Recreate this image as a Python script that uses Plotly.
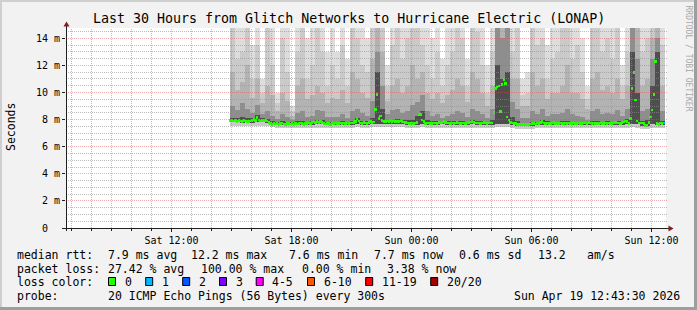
import math
import plotly.graph_objects as go
from datetime import datetime, timedelta

# ------------------------------------------------------------------ data
GRAPH_START = datetime(2026, 4, 18, 6, 43, 30)
GRAPH_END = datetime(2026, 4, 19, 12, 43, 30)
DATA_START = datetime(2026, 4, 18, 14, 55)
STEP_MIN = 5          # median sample step
SMOKE_STEP_MIN = 15   # smoke column step
Y_MAX = 14.76

# median rtt (ms), one value per 5 minutes, rows = hours
median_ms = [
    7.92,
    7.92, 7.90, 7.93, 7.88, 7.92, 7.90, 7.86, 7.92, 7.90, 7.88, 7.85, 7.90,   # Sat 15
    7.96, 8.02, 7.95, 8.17, 7.98, 7.90, 7.94, 7.92, 7.96, 7.90, 7.78, 7.72,   # 16
    7.66, 7.70, 7.68, 7.72, 7.66, 7.70, 7.74, 7.68, 7.66, 7.72, 7.70, 7.68,   # 17
    7.70, 7.66, 7.72, 7.68, 7.70, 7.74, 7.70, 7.66, 7.72, 7.70, 7.74, 7.70,   # 18
    7.78, 7.82, 7.80, 7.84, 7.80, 7.86, 7.78, 7.70, 7.68, 7.72, 7.70, 7.66,   # 19
    7.72, 7.70, 7.74, 7.72, 7.70, 7.76, 7.72, 7.74, 7.70, 7.76, 7.72, 7.74,   # 20
    7.75, 7.80, 7.86, 8.04, 7.90, 7.76, 7.72, 7.78, 7.74, 7.72, 7.80, 7.86,   # 21
    7.80, 7.82, 8.76, 9.87, 8.10, 8.27, 7.92, 7.88, 7.86, 7.90, 7.88, 7.92,   # 22
    7.88, 7.90, 7.84, 7.88, 7.86, 7.90, 7.84, 7.82, 7.80, 7.76, 7.72, 7.70,   # 23
    7.70, 7.72, 7.76, 7.80, 8.34, 8.40, 7.98, 7.84, 7.72, 7.76, 7.74, 7.70,   # Sun 00
    7.72, 7.76, 7.74, 7.72, 7.78, 7.74, 7.80, 7.86, 7.78, 7.74, 7.76, 7.72,   # 01
    7.74, 7.72, 7.76, 7.78, 7.74, 7.72, 7.76, 7.74, 7.72, 7.76, 7.80, 7.82,   # 02
    7.84, 7.78, 7.76, 7.74, 7.76, 7.72, 7.74, 7.78, 7.76, 7.72, 7.74, 7.76,   # 03
    7.76, 8.50, 10.30, 10.40, 10.48, 8.58, 10.60, 10.97, 10.68, 8.20, 7.97, 7.80,  # 04
    7.76, 7.72, 7.70, 7.66, 7.64, 7.62, 7.66, 7.64, 7.62, 7.66, 7.64, 7.68,   # 05
    7.70, 7.72, 7.68, 7.74, 7.72, 7.80, 7.84, 7.76, 7.72, 7.74, 7.70, 7.72,   # 06
    7.74, 7.78, 7.72, 7.70, 7.72, 7.74, 7.72, 7.70, 7.74, 7.72, 7.74, 7.72,   # 07
    7.72, 7.74, 7.72, 7.70, 7.74, 7.72, 7.70, 7.74, 7.76, 7.72, 7.78, 7.74,   # 08
    7.72, 7.74, 7.72, 7.70, 7.72, 7.74, 7.72, 7.70, 7.74, 7.72, 7.76, 7.72,   # 09
    7.72, 7.74, 7.80, 7.76, 7.74, 7.72, 7.78, 7.82, 7.90, 7.88, 7.70, 8.10,   # 10
    10.30, 11.46, 9.45, 7.90, 7.74, 7.76, 7.74, 7.72, 7.55, 7.58, 7.80, 8.20, # 11
    8.70, 9.85, 12.27, 7.72, 7.62, 7.74, 7.72, 7.76,                          # 12
]

# lost pings (of 20) per 5-minute sample
loss_count = [
    0,
    0, 0, 0, 0, 0, 0, 0, 0, 0, 0, 0, 0,
    0, 0, 0, 0, 0, 0, 0, 0, 0, 0, 0, 0,
    0, 0, 0, 0, 0, 0, 0, 0, 0, 0, 0, 0,
    0, 0, 0, 0, 0, 0, 0, 0, 0, 0, 0, 0,
    0, 0, 0, 0, 0, 0, 0, 0, 0, 0, 0, 0,
    0, 0, 0, 0, 0, 0, 0, 0, 0, 0, 0, 0,
    0, 0, 0, 0, 0, 0, 0, 0, 0, 0, 0, 0,
    0, 0, 0, 0, 0, 0, 0, 0, 0, 0, 0, 0,
    0, 0, 0, 0, 0, 0, 0, 0, 0, 0, 0, 0,
    0, 0, 0, 0, 0, 0, 0, 0, 0, 0, 0, 0,
    0, 0, 0, 0, 0, 0, 0, 0, 0, 0, 0, 0,
    0, 0, 0, 0, 0, 0, 0, 0, 0, 0, 0, 0,
    0, 0, 0, 0, 0, 0, 0, 0, 0, 0, 0, 0,
    0, 0, 0, 0, 0, 0, 0, 0, 0, 0, 0, 0,
    0, 0, 0, 0, 0, 0, 0, 0, 0, 0, 0, 0,
    0, 0, 0, 0, 0, 0, 0, 0, 0, 0, 0, 0,
    0, 0, 0, 0, 0, 0, 0, 0, 0, 0, 0, 0,
    0, 0, 0, 0, 0, 0, 0, 0, 0, 0, 0, 0,
    0, 0, 0, 0, 0, 0, 0, 0, 0, 0, 0, 0,
    0, 0, 0, 0, 0, 0, 0, 0, 0, 0, 0, 0,
    0, 0, 0, 0, 0, 0, 0, 0, 0, 0, 0, 0,
    0, 0, 0, 0, 0, 0, 0, 1,
]

# smoke: per 15-minute column, tops of the five grey bands (ms)
smoke_top_1 = [  # lightest (max ping)
    15, 15, 15, 15, 13.5, 15, 11.0, 15, 15, 10.0, 15, 15,
    9.0, 15, 15, 14.0, 15, 15, 15, 13.0, 15, 13.0, 15, 12.5,
    15, 15, 15, 14.0, 15, 15, 15, 12.0, 15, 15, 15, 15,
    15, 15, 15, 15, 14.0, 15, 12.5, 15, 15, 15, 15, 12.5,
    15, 15, 15, 12.0, 15, 15, 15, 15, 15, 15, 11.0, 11.5,
    15, 15, 15, 13.5, 15, 15, 15, 15, 15, 15, 14.0, 10.5,
    15, 15, 15, 15, 15, 15, 12.0, 15, 15, 15, 15, 15,
    15, 15, 15,
]
smoke_top_2 = [
    15, 12.5, 13.0, 15, 11.0, 13.5, 10.0, 15, 12.0, 9.2, 14.0, 11.5,
    8.6, 13.0, 15, 11.0, 12.0, 15, 13.0, 10.5, 12.0, 11.0, 13.5, 10.5,
    15, 14.0, 12.0, 11.5, 15, 15, 15, 10.5, 13.5, 15, 12.5, 14.0,
    15, 15, 13.5, 12.0, 11.0, 13.0, 10.5, 12.0, 13.0, 15, 14.0, 10.5,
    15, 14.5, 12.0, 10.0, 13.0, 15, 15, 15, 13.0, 15, 9.8, 10.0,
    15, 13.5, 14.0, 11.0, 12.5, 13.0, 15, 15, 12.5, 13.5, 11.5, 9.5,
    15, 15, 13.0, 14.0, 12.5, 15, 10.5, 13.0, 15, 15, 13.0, 14.0,
    15, 15, 13.5,
]
smoke_top_3 = [
    11.5, 10.2, 10.8, 12.0, 9.6, 11.0, 9.2, 10.5, 9.8, 8.6, 10.0, 9.4,
    8.3, 10.5, 11.0, 9.5, 9.8, 10.5, 10.0, 9.2, 9.6, 9.5, 10.2, 9.2,
    11.5, 11.0, 10.0, 9.6, 12.5, 15, 13.0, 9.4, 10.5, 11.0, 10.0, 10.5,
    12.0, 11.0, 11.5, 10.0, 9.5, 10.0, 9.2, 9.8, 10.2, 11.0, 10.5, 9.3,
    11.5, 11.0, 10.0, 9.0, 10.5, 15, 15, 15, 11.0, 11.0, 9.0, 9.0,
    11.5, 10.5, 11.0, 9.5, 10.0, 10.0, 10.5, 12.0, 10.0, 10.0, 9.5, 8.8,
    11.0, 11.5, 10.2, 10.5, 10.0, 11.0, 9.5, 10.5, 15, 15, 10.5, 11.0,
    14.0, 15, 10.5,
]
smoke_top_4 = [
    9.0, 8.7, 9.2, 8.8, 8.5, 9.1, 8.4, 8.6, 8.3, 8.05, 8.4, 8.2,
    7.95, 8.5, 8.6, 8.2, 8.3, 8.7, 8.6, 8.2, 8.2, 8.2, 8.4, 8.1,
    8.6, 8.8, 8.5, 8.3, 9.4, 13.0, 10.5, 8.4, 8.7, 8.8, 8.5, 8.6,
    9.1, 9.3, 9.8, 8.6, 8.3, 8.4, 8.1, 8.3, 8.4, 8.6, 8.5, 8.2,
    8.8, 8.6, 8.4, 8.1, 8.8, 15, 14.0, 15, 9.3, 8.8, 8.1, 8.1,
    8.6, 8.4, 8.8, 8.3, 8.4, 8.4, 8.5, 8.8, 8.4, 8.3, 8.2, 8.0,
    8.6, 8.8, 8.4, 8.5, 8.4, 8.7, 8.3, 8.8, 15, 12.5, 8.6, 8.8,
    12.5, 14.0, 8.6,
]
smoke_top_5 = [  # darkest
    8.15, 8.1, 8.2, 8.1, 8.1, 8.35, 8.1, 8.05, 7.9, 7.85, 7.88, 7.85,
    7.82, 7.88, 7.9, 7.85, 7.88, 8.0, 7.98, 7.85, 7.85, 7.85, 7.88, 7.82,
    7.92, 8.1, 7.92, 7.9, 8.1, 11.5, 8.8, 8.0, 8.0, 8.05, 7.98, 7.95,
    7.95, 8.3, 8.6, 7.95, 7.9, 7.88, 7.85, 7.88, 7.88, 7.9, 7.88, 7.85,
    7.98, 7.92, 7.88, 7.85, 8.0, 12.0, 11.0, 11.5, 8.2, 7.9, 7.78, 7.78,
    7.85, 7.85, 8.0, 7.88, 7.85, 7.85, 7.88, 7.9, 7.85, 7.85, 7.82, 7.82,
    7.9, 7.9, 7.85, 7.88, 7.85, 7.92, 7.92, 8.05, 13.0, 10.0, 7.9, 8.0,
    10.5, 13.0, 7.9,
]
smoke_low_light = [  # lowest ping
    7.55, 7.55, 7.50, 7.55, 7.50, 7.55, 7.55, 7.50, 7.45, 7.35, 7.35, 7.38,
    7.35, 7.35, 7.38, 7.35, 7.38, 7.40, 7.40, 7.38, 7.35, 7.38, 7.35, 7.38,
    7.40, 7.42, 7.38, 7.40, 7.42, 7.45, 7.45, 7.42, 7.45, 7.42, 7.45, 7.40,
    7.38, 7.40, 7.42, 7.38, 7.35, 7.38, 7.40, 7.38, 7.35, 7.38, 7.35, 7.38,
    7.40, 7.38, 7.35, 7.38, 7.38, 7.45, 7.45, 7.45, 7.40, 7.30, 7.28, 7.28,
    7.30, 7.35, 7.38, 7.35, 7.38, 7.38, 7.35, 7.38, 7.35, 7.38, 7.35, 7.38,
    7.35, 7.38, 7.35, 7.38, 7.35, 7.38, 7.38, 7.40, 7.42, 7.40, 7.30, 7.28,
    7.40, 7.38, 7.38,
]
smoke_low_dark = [
    7.80, 7.80, 7.78, 7.80, 7.78, 7.82, 7.80, 7.78, 7.66, 7.60, 7.60, 7.60,
    7.60, 7.60, 7.62, 7.60, 7.62, 7.64, 7.64, 7.60, 7.60, 7.62, 7.60, 7.62,
    7.62, 7.64, 7.60, 7.62, 7.64, 7.66, 7.66, 7.64, 7.66, 7.64, 7.66, 7.62,
    7.60, 7.62, 7.64, 7.60, 7.60, 7.62, 7.64, 7.62, 7.60, 7.62, 7.60, 7.62,
    7.64, 7.62, 7.60, 7.62, 7.62, 7.66, 7.66, 7.66, 7.62, 7.55, 7.54, 7.54,
    7.56, 7.60, 7.62, 7.60, 7.62, 7.62, 7.60, 7.62, 7.60, 7.62, 7.60, 7.62,
    7.60, 7.62, 7.60, 7.62, 7.60, 7.62, 7.62, 7.64, 7.66, 7.64, 7.52, 7.50,
    7.64, 7.62, 7.60,
]

x_tick_vals = ["2026-04-18 12:00", "2026-04-18 18:00", "2026-04-19 00:00",
               "2026-04-19 06:00", "2026-04-19 12:00"]
x_tick_text = ["Sat 12:00", "Sat 18:00", "Sun 00:00", "Sun 06:00", "Sun 12:00"]
y_tick_vals = [0, 2, 4, 6, 8, 10, 12, 14]
y_tick_text = ["0\u00a0\u00a0", "2 m", "4 m", "6 m", "8 m", "10 m", "12 m", "14 m"]

loss_labels = ["0", "1", "2", "3", "4-5", "6-10", "11-19", "20/20"]
loss_upper = [0, 1, 2, 3, 5, 10, 19, 20]
loss_colors = ["#26ff00", "#00b8ff", "#0059ff", "#7e00ff",
               "#ff00ff", "#ff5500", "#ff0000", "#a10000"]

title_text = "Last 30 Hours from Glitch Networks to Hurricane Electric (LONAP)"
row_rtt = ["median rtt:", "7.9 ms avg", "12.2 ms max", "7.6 ms min",
           "7.7 ms now", "0.6 ms sd", "13.2", "am/s"]
row_loss = ["packet loss:", "27.42 % avg", "100.00 % max", "0.00 % min", "3.38 % now"]
row_probe = ["probe:", "20 ICMP Echo Pings (56 Bytes) every 300s",
             "Sun Apr 19 12:43:30 2026"]

# ------------------------------------------------------------------ layout geometry
W, H = 697, 310
L, T, PW, PH = 66, 28, 600, 200
FONT = "DejaVu Sans Mono"
SPAN_S = (GRAPH_END - GRAPH_START).total_seconds()


def px_x(x):
    return (x - L) / PW


def px_y(y):
    return (T + PH - y) / PH


def snap_val(v):
    ypx = math.floor(T + PH - v * PH / Y_MAX) + 0.5
    return (T + PH - ypx) * Y_MAX / PH


def snap_time(t):
    xpx = L + (t - GRAPH_START).total_seconds() / SPAN_S * PW
    xpx = math.floor(xpx) + 0.5
    return GRAPH_START + timedelta(seconds=(xpx - L) / PW * SPAN_S)


# ------------------------------------------------------------------ traces
fig = go.Figure()

smoke_x = [DATA_START + timedelta(minutes=SMOKE_STEP_MIN * k + SMOKE_STEP_MIN / 2)
           for k in range(len(smoke_top_1))]
smoke_w = SMOKE_STEP_MIN * 60 * 1000

bands = [
    (smoke_top_1, smoke_low_light, "#dddddd"),
    (smoke_top_2, smoke_low_light, "#cacaca"),
    (smoke_top_3, smoke_low_dark, "#b3b3b3"),
    (smoke_top_4, smoke_low_dark, "#8e8e8e"),
    (smoke_top_5, smoke_low_dark, "#4e4e4e"),
]
for tops, lows, col in bands:
    fig.add_trace(go.Bar(
        x=smoke_x, y=[t - b for t, b in zip(tops, lows)], base=lows,
        width=smoke_w, marker=dict(color=col, line=dict(width=0)),
        hoverinfo="skip", showlegend=False))

med_x = [DATA_START + timedelta(minutes=STEP_MIN * i + STEP_MIN / 2)
         for i in range(len(median_ms))]
SW = 0.1


def loss_class(n):
    for i, up in enumerate(loss_upper):
        if n <= up:
            return i
    return len(loss_upper) - 1


med_colors = [loss_colors[loss_class(n)] for n in loss_count]
fig.add_trace(go.Bar(
    x=med_x, y=[2 * SW] * len(median_ms), base=[m - SW for m in median_ms],
    width=STEP_MIN * 60 * 1000, marker=dict(color=med_colors, line=dict(width=0)),
    hoverinfo="skip", showlegend=False))

# ------------------------------------------------------------------ grid (drawn above data, like rrdtool)
shapes = []
GRID = "rgba(143,143,143,0.6)"
MGRID = "rgba(222,79,79,0.45)"
DASH = "1px,1px"
t = datetime(2026, 4, 18, 7, 0)
while t <= GRAPH_END:
    major = t.hour % 3 == 0
    ts = snap_time(t)
    shapes.append(dict(type="line", xref="x", yref="paper", x0=ts, x1=ts, y0=0, y1=1,
                       layer="above",
                       line=dict(color=MGRID if major else GRID, width=1, dash=DASH)))
    t += timedelta(hours=1)
v = 0.5
while v < Y_MAX:
    major = abs(v / 2 - round(v / 2)) < 1e-9
    vs = snap_val(v)
    shapes.append(dict(type="line", xref="paper", yref="y", x0=px_x(66), x1=px_x(668),
                       y0=vs, y1=vs, layer="above",
                       line=dict(color=MGRID if major else GRID, width=1, dash=DASH)))
    v += 0.5

AXIS = "#1f1f1f"
ARROW = "#801f1f"
# axis lines
shapes.append(dict(type="line", xref="paper", yref="paper",
                   x0=px_x(62), x1=px_x(669), y0=px_y(228.5), y1=px_y(228.5),
                   layer="above", line=dict(color=AXIS, width=1)))
shapes.append(dict(type="line", xref="paper", yref="paper",
                   x0=px_x(66.5), x1=px_x(66.5), y0=px_y(231), y1=px_y(25),
                   layer="above", line=dict(color=AXIS, width=1)))
# arrows
shapes.append(dict(type="path", xref="paper", yref="paper", layer="above",
                   path=f"M {px_x(63.5)} {px_y(26.5)} L {px_x(69.5)} {px_y(26.5)} "
                        f"L {px_x(66.5)} {px_y(21.5)} Z",
                   fillcolor=ARROW, line=dict(width=0)))
shapes.append(dict(type="path", xref="paper", yref="paper", layer="above",
                   path=f"M {px_x(668.5)} {px_y(225.5)} L {px_x(668.5)} {px_y(231.5)} "
                        f"L {px_x(673.5)} {px_y(228.5)} Z",
                   fillcolor=ARROW, line=dict(width=0)))
# frame (3D shade)
shapes.append(dict(type="rect", xref="paper", yref="paper", layer="above",
                   x0=px_x(0), x1=px_x(W), y0=px_y(0), y1=px_y(2),
                   fillcolor="#cfcfcf", line=dict(width=0)))
shapes.append(dict(type="rect", xref="paper", yref="paper", layer="above",
                   x0=px_x(0), x1=px_x(2), y0=px_y(0), y1=px_y(H),
                   fillcolor="#cfcfcf", line=dict(width=0)))
shapes.append(dict(type="rect", xref="paper", yref="paper", layer="above",
                   x0=px_x(0), x1=px_x(W), y0=px_y(H - 3), y1=px_y(H),
                   fillcolor="#9e9e9e", line=dict(width=0)))
shapes.append(dict(type="rect", xref="paper", yref="paper", layer="above",
                   x0=px_x(W - 3), x1=px_x(W), y0=px_y(0), y1=px_y(H),
                   fillcolor="#9e9e9e", line=dict(width=0)))

# ------------------------------------------------------------------ text
annotations = []


def text(s, x, y, size=11.5, anchor="left", color="#000000", angle=0):
    annotations.append(dict(text=s, x=px_x(x), y=px_y(y), xref="paper", yref="paper",
                            xanchor=anchor, yanchor="middle", showarrow=False,
                            textangle=angle, borderpad=0,
                            font=dict(family=FONT, size=size, color=color)))


text(title_text, 348.5, 18.5, size=13.3, anchor="center")
text("Seconds", 10.5, 127.5, angle=-90, anchor="center")
text("RRDTOOL / TOBI OETIKER", 688, 58.5, size=8, anchor="center", color="#a8a8a8", angle=90)

for s, x in zip(row_rtt, [16, 107.3, 190, 288, 372.7, 458.3, 536.7, 586]):
    text(s, x, 254.5)
for s, x in zip(row_loss, [16, 107.3, 200, 301, 386]):
    text(s, x, 268.5)
text("loss color:", 16, 282)
box_x = [108.5, 145.7, 182.7, 219.5, 256.2, 307.5, 365.7, 430.7]
for lab, col, bx in zip(loss_labels, loss_colors, box_x):
    shapes.append(dict(type="rect", xref="paper", yref="paper", layer="above",
                       x0=px_x(bx), x1=px_x(bx + 7), y0=px_y(277.5), y1=px_y(285.5),
                       fillcolor=col, line=dict(color="#000000", width=1)))
    text(lab, bx + 15, 282)
for s, x in zip(row_probe, [16, 107.3, 513.3]):
    text(s, x, 296)

# ------------------------------------------------------------------ layout
fig.update_layout(
    width=W, height=H,
    margin=dict(l=L, r=W - L - PW, t=T, b=H - T - PH, pad=0),
    paper_bgcolor="#f2f2f2", plot_bgcolor="#ffffff",
    barmode="overlay", bargap=0, showlegend=False,
    font=dict(family=FONT, size=10, color="#000000"),
    xaxis=dict(type="date", range=[GRAPH_START, GRAPH_END], showgrid=False,
               zeroline=False, showline=False, tickmode="array",
               tickvals=x_tick_vals, ticktext=x_tick_text,
               ticks="outside", ticklen=3, tickcolor=AXIS,
               minor=dict(ticks="outside", ticklen=2, tickcolor=AXIS,
                          tickmode="linear", tick0="2026-04-18 07:00", dtick=3600000),
               tickfont=dict(family=FONT, size=10, color="#000000"), fixedrange=True),
    yaxis=dict(range=[0, Y_MAX], showgrid=False, zeroline=False, showline=False,
               tickmode="array", tickvals=y_tick_vals, ticktext=y_tick_text,
               ticks="outside", ticklen=3, tickcolor=AXIS,
               tickfont=dict(family=FONT, size=10, color="#000000"), fixedrange=True),
    shapes=shapes, annotations=annotations,
)

fig.write_html("out.html")
